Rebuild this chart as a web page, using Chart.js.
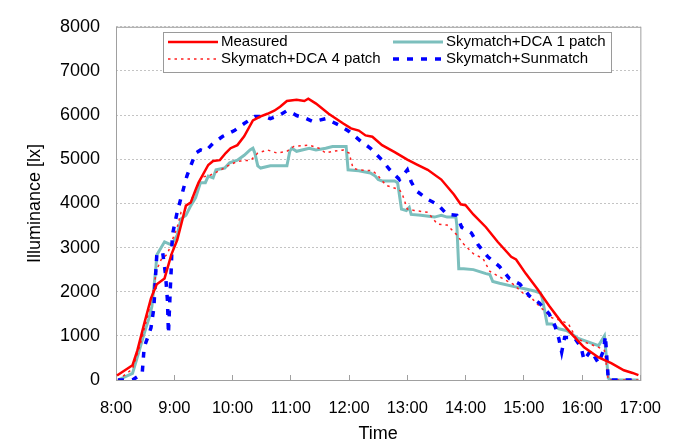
<!DOCTYPE html>
<html>
<head>
<meta charset="utf-8">
<script src="https://cdn.jsdelivr.net/npm/chart.js@4.4.0/dist/chart.umd.min.js"></script>
<style>
  body { margin: 0; background: #fff; }
</style>
</head>
<body>
<canvas id="chart" width="685" height="443"></canvas>
<script>
// illuminance over the day, lx
var hourLabels = ['8:00', '9:00', '10:00', '11:00', '12:00', '13:00', '14:00', '15:00', '16:00', '17:00'];

var measuredTimes = ['8:01', '8:17', '8:22', '8:29', '8:36', '8:42', '8:50', '8:57', '9:03', '9:07', '9:12', '9:17', '9:22', '9:25', '9:35', '9:40', '9:47', '9:53', '9:58', '10:05', '10:12', '10:21', '10:29', '10:36', '10:43', '10:49', '10:56', '11:06', '11:14', '11:18', '11:26', '11:39', '11:54', '12:02', '12:10', '12:17', '12:24', '12:34', '12:47', '13:00', '13:10', '13:21', '13:35', '13:48', '13:55', '14:00', '14:08', '14:21', '14:33', '14:47', '14:52', '15:02', '15:14', '15:26', '15:39', '15:51', '16:02', '16:17', '16:30', '16:43', '16:52', '16:58'];
var measuredLux = [100, 335, 670, 1270, 1850, 2170, 2300, 2840, 3170, 3510, 3950, 4020, 4310, 4470, 4870, 4960, 4980, 5140, 5250, 5320, 5520, 5880, 5970, 6030, 6100, 6190, 6320, 6350, 6320, 6370, 6260, 6030, 5810, 5700, 5650, 5540, 5510, 5320, 5160, 4990, 4880, 4760, 4540, 4200, 3980, 3960, 3750, 3460, 3130, 2790, 2730, 2410, 2060, 1680, 1300, 1000, 740, 510, 380, 220, 160, 110];

var dca1Times = ['8:02', '8:17', '8:24', '8:29', '8:34', '8:37', '8:41', '8:42', '8:50', '8:57', '9:03', '9:07', '9:12', '9:17', '9:22', '9:27', '9:32', '9:35', '9:40', '9:43', '9:52', '9:57', '10:05', '10:12', '10:18', '10:21', '10:23', '10:26', '10:29', '10:39', '10:56', '10:59', '11:01', '11:06', '11:19', '11:26', '11:36', '11:43', '11:57', '11:59', '12:10', '12:22', '12:27', '12:30', '12:34', '12:47', '12:50', '12:54', '12:59', '13:02', '13:04', '13:14', '13:28', '13:35', '13:41', '13:50', '13:51', '13:53', '13:58', '14:08', '14:21', '14:25', '14:28', '14:35', '14:49', '15:02', '15:12', '15:17', '15:19', '15:24', '15:29', '15:36', '15:44', '15:49', '15:56', '16:17', '16:23', '16:27', '16:30', '16:58'];
var dca1Lux = [0, 150, 670, 1050, 1400, 1670, 2520, 2830, 3130, 3060, 3280, 3650, 3730, 3950, 4130, 4470, 4470, 4620, 4580, 4760, 4800, 4920, 4980, 5090, 5210, 5250, 5140, 4850, 4800, 4850, 4850, 5180, 5250, 5180, 5250, 5210, 5250, 5290, 5290, 4760, 4740, 4690, 4620, 4540, 4510, 4510, 4470, 3870, 3840, 3910, 3750, 3730, 3690, 3730, 3690, 3690, 3510, 2520, 2520, 2500, 2410, 2390, 2230, 2190, 2120, 2060, 2010, 1970, 1850, 1270, 1270, 1160, 1120, 1050, 940, 780, 1000, 40, 0, 0];

var dca4Times = ['8:02', '8:17', '8:25', '8:32', '8:38', '8:42', '8:47', '8:53', '8:58', '9:03', '9:07', '9:12', '9:17', '9:22', '9:28', '9:35', '9:42', '9:48', '9:55', '10:02', '10:08', '10:19', '10:26', '10:36', '10:46', '10:56', '11:03', '11:19', '11:29', '11:36', '11:43', '11:54', '12:00', '12:02', '12:04', '12:10', '12:24', '12:29', '12:34', '12:39', '12:45', '12:52', '12:55', '13:00', '13:07', '13:21', '13:31', '13:41', '13:50', '13:58', '14:08', '14:18', '14:25', '14:38', '14:49', '14:59', '15:09', '15:19', '15:29', '15:39', '15:46', '15:54', '16:06', '16:17', '16:23', '16:27', '16:58'];
var dca4Lux = [0, 250, 800, 1400, 2000, 2500, 2750, 2850, 3170, 3460, 3800, 3900, 4050, 4300, 4600, 4620, 4690, 4760, 4850, 4920, 4960, 4980, 5140, 5210, 5140, 5180, 5290, 5320, 5250, 5140, 5180, 5210, 5140, 4980, 4800, 4760, 4740, 4650, 4510, 4400, 4360, 4310, 4200, 3870, 3840, 3800, 3530, 3510, 3310, 3080, 2860, 2750, 2460, 2300, 2170, 1970, 1830, 1610, 1410, 1340, 1270, 940, 830, 740, 670, 0, 0];

var sunTimes = ['8:02', '8:17', '8:27', '8:29', '8:34', '8:36', '8:39', '8:41', '8:42', '8:48', '8:51', '8:53', '8:54', '8:56', '8:57', '8:58', '9:03', '9:07', '9:13', '9:22', '9:27', '9:32', '9:40', '9:50', '10:02', '10:12', '10:23', '10:33', '10:39', '10:48', '10:56', '11:03', '11:06', '11:16', '11:23', '11:36', '11:50', '12:00', '12:12', '12:22', '12:34', '12:42', '12:52', '13:00', '13:04', '13:09', '13:21', '13:31', '13:41', '13:51', '13:56', '14:06', '14:13', '14:23', '14:35', '14:45', '14:56', '15:06', '15:16', '15:26', '15:32', '15:36', '15:39', '15:42', '15:52', '15:59', '16:02', '16:09', '16:17', '16:22', '16:24', '16:27', '16:58'];
var sunLux = [0, 0, 150, 740, 1050, 1180, 1630, 2460, 2830, 2900, 2390, 1790, 1050, 2100, 2570, 3280, 3800, 4130, 4620, 5140, 5210, 5180, 5360, 5520, 5650, 5810, 5970, 5970, 5920, 5990, 6100, 6030, 5990, 5920, 5850, 5920, 5770, 5630, 5410, 5250, 4980, 4760, 4540, 4760, 4490, 4290, 4090, 3980, 3750, 3730, 3460, 3330, 3060, 2790, 2570, 2300, 2170, 1900, 1740, 1500, 1230, 940, 630, 960, 960, 740, 450, 670, 380, 670, 1000, 0, 0];

var FONT = "'Liberation Sans', Arial, sans-serif";

function toMin(t) {
    var p = t.split(':');
    return Number(p[0]) * 60 + Number(p[1]);
}

function points(times, values) {
    return times.map(function (t, i) { return { x: toMin(t), y: values[i] }; });
}

// legend sits inside the plot, 2 x 2
var boxLegend = {
    id: 'boxLegend',
    afterDraw: function (chart) {
        var ctx = chart.ctx;
        var x0 = 163, y0 = 32, w = 448, h = 40;
        ctx.save();
        ctx.fillStyle = '#fff';
        ctx.fillRect(x0, y0, w, h);
        ctx.strokeStyle = '#9a9a9a';
        ctx.lineWidth = 1;
        ctx.strokeRect(x0 + 0.5, y0 + 0.5, w, h);
        ctx.font = '15px ' + FONT;
        ctx.textBaseline = 'middle';
        ctx.fillStyle = '#000';
        chart.data.datasets.forEach(function (ds, i) {
            var col = i % 2, row = Math.floor(i / 2);
            var lx = col ? 393 : 168;
            var ly = row ? 59 : 42;
            ctx.beginPath();
            ctx.strokeStyle = ds.borderColor;
            ctx.lineWidth = ds.borderWidth;
            ctx.setLineDash(ds.borderDash || []);
            ctx.moveTo(lx, ly);
            ctx.lineTo(lx + 50, ly);
            ctx.stroke();
            ctx.setLineDash([]);
            ctx.fillText(ds.label, lx + 53, ly);
        });
        ctx.restore();
    }
};

// plot frame
var frame = {
    id: 'frame',
    beforeDatasetsDraw: function (chart) {
        var a = chart.chartArea, ctx = chart.ctx;
        ctx.save();
        ctx.strokeStyle = '#a0a0a0';
        ctx.lineWidth = 1;
        ctx.strokeRect(a.left + 0.5, a.top + 0.5, a.right - a.left, a.bottom - a.top);
        ctx.restore();
    }
};

new Chart(document.getElementById('chart'), {
    type: 'line',
    data: {
        datasets: [{
            label: 'Measured',
            data: points(measuredTimes, measuredLux),
            borderColor: '#ff0000',
            borderWidth: 2.5,
            order: 0
        }, {
            label: 'Skymatch+DCA 1 patch',
            data: points(dca1Times, dca1Lux),
            borderColor: '#7cbfbd',
            borderWidth: 3,
            order: 3
        }, {
            label: 'Skymatch+DCA 4 patch',
            data: points(dca4Times, dca4Lux),
            borderColor: '#ff2020',
            borderWidth: 1.5,
            borderDash: [2.5, 4],
            order: 2
        }, {
            label: 'Skymatch+Sunmatch',
            data: points(sunTimes, sunLux),
            borderColor: '#0000ff',
            borderWidth: 3.5,
            borderDash: [6, 8],
            order: 1
        }]
    },
    options: {
        responsive: false,
        animation: false,
        layout: { padding: { top: 22, right: 35, left: 0, bottom: 0 } },
        elements: { point: { radius: 0 }, line: { tension: 0 } },
        plugins: {
            legend: { display: false },
            tooltip: { enabled: false }
        },
        scales: {
            x: {
                type: 'linear',
                min: 480,
                max: 1020,
                afterFit: function (s) { s.height = 63; },
                grid: { drawOnChartArea: false, tickLength: -5, color: '#a0a0a0' },
                border: { display: false },
                ticks: {
                    stepSize: 60,
                    padding: 24,
                    maxRotation: 0,
                    color: '#000',
                    font: { family: FONT, size: 16.5 },
                    callback: function (v) { return hourLabels[(v - 480) / 60]; }
                },
                title: {
                    display: true,
                    text: 'Time',
                    color: '#000',
                    font: { family: FONT, size: 18, lineHeight: 1 },
                    padding: { top: 0, bottom: 0 }
                }
            },
            y: {
                min: 0,
                max: 8000,
                afterFit: function (s) { s.width = 116; },
                grid: { drawTicks: false, color: '#c4c4c4' },
                border: { display: false, dash: [2, 2] },
                ticks: {
                    stepSize: 1000,
                    padding: 16,
                    color: '#000',
                    font: { family: FONT, size: 18 },
                    callback: function (v) { return String(v); }
                },
                title: {
                    display: true,
                    text: 'Illuminance [lx]',
                    color: '#000',
                    font: { family: FONT, size: 18 },
                    padding: { top: 24, bottom: 0 }
                }
            }
        }
    },
    plugins: [frame, boxLegend]
});
</script>
</body>
</html>
